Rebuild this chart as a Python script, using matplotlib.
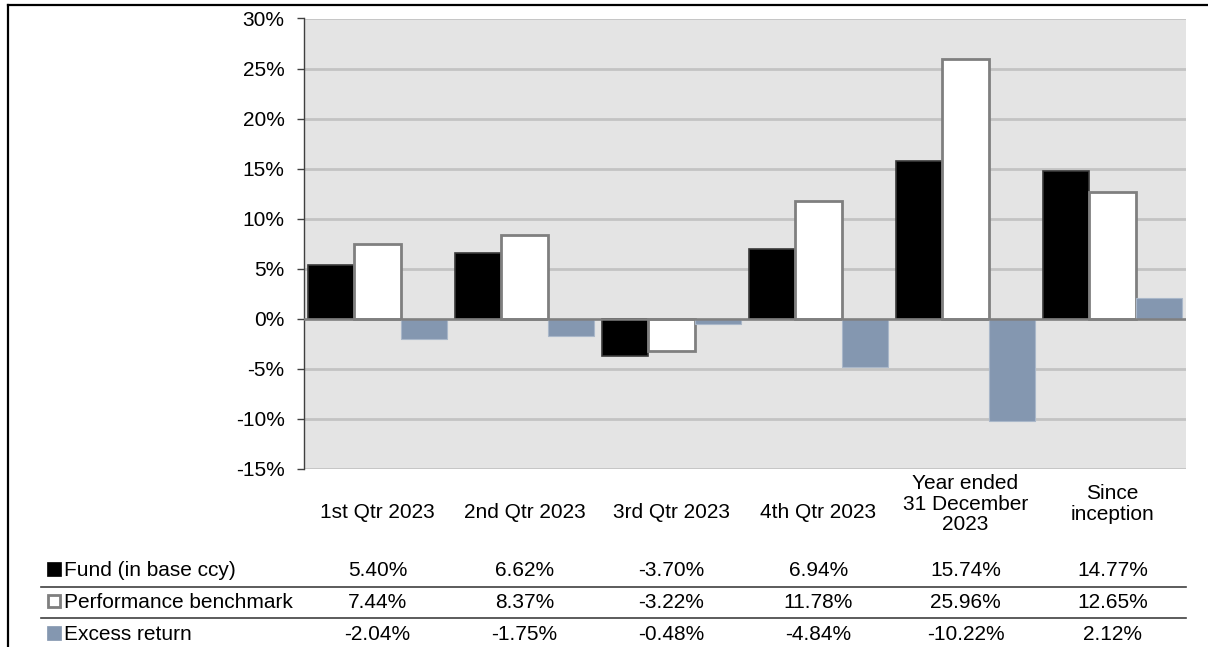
import matplotlib
matplotlib.use("Agg")
import matplotlib.pyplot as plt
import matplotlib.transforms as mtransforms
from matplotlib.patches import Rectangle
from matplotlib.lines import Line2D
import numpy as np

plt.rcParams['font.family'] = ['Liberation Sans', 'DejaVu Sans']

categories = ["1st Qtr 2023", "2nd Qtr 2023", "3rd Qtr 2023", "4th Qtr 2023",
              "Year ended\n31 December\n2023", "Since\ninception"]
series_names = ["Fund (in base ccy)", "Performance benchmark", "Excess return"]
fund = [5.40, 6.62, -3.70, 6.94, 15.74, 14.77]
benchmark = [7.44, 8.37, -3.22, 11.78, 25.96, 12.65]
excess = [-2.04, -1.75, -0.48, -4.84, -10.22, 2.12]
yticks = [-15, -10, -5, 0, 5, 10, 15, 20, 25, 30]

W, H = 1208, 647
FS = 15
fig = plt.figure(figsize=(W / 100, H / 100), dpi=100)

def fx(px):
    return px / W

def fy(py):
    return 1 - py / H

ax_left, ax_right, ax_top, ax_bot = 304, 1186, 18.5, 469
ax = fig.add_axes([fx(ax_left), fy(ax_bot), fx(ax_right - ax_left), (ax_bot - ax_top) / H])
ax.set_facecolor('#e4e4e4')

x = np.arange(len(categories))
bw = 0.315
ax.bar(x - bw, fund, width=bw, color='black', edgecolor='#3a3a3a', linewidth=1.2, zorder=3)
ax.bar(x, benchmark, width=bw, color='white', edgecolor='#7f7f7f', linewidth=2.0, zorder=3)
ax.bar(x + bw, excess, width=bw, color='#8497b0', edgecolor='#a9b7c9', linewidth=0.8, zorder=3)

ax.set_xlim(-0.5, len(categories) - 0.5)
ax.set_ylim(-15, 30)
ax.set_yticks(yticks)
ax.set_yticklabels([f"{v}%" for v in yticks], fontsize=FS)
ax.yaxis.grid(True, color='#c3c3c3', linewidth=2.0, zorder=0)
ax.axhline(0, color='#808080', linewidth=1.8, zorder=4)
ax.set_xticks([])
for s in ['top', 'right', 'bottom']:
    ax.spines[s].set_visible(False)
ax.spines['left'].set_color('#404040')
ax.spines['left'].set_linewidth(1.0)
ax.tick_params(axis='y', direction='out', length=5, width=1.0, color='#404040', pad=9)

blend = mtransforms.blended_transform_factory(ax.transData, fig.transFigure)

# category labels below the plot
cat_y = [512, 512, 512, 512, 504, 504]
for i, c in enumerate(categories):
    ax.text(x[i], fy(cat_y[i]), c, transform=blend, ha='center', va='center',
            fontsize=FS, linespacing=1.08)

# data table
row_y = [570, 602, 634]
rows = [fund, benchmark, excess]
for r, vals in enumerate(rows):
    for i, v in enumerate(vals):
        ax.text(x[i], fy(row_y[r]), f"{v:.2f}%", transform=blend, ha='center', va='center', fontsize=FS)
    fig.text(fx(64), fy(row_y[r]), series_names[r], ha='left', va='center', fontsize=FS)

# legend keys
sq = 14
fig.add_artist(Rectangle((fx(47), fy(row_y[0] - 1 + sq / 2)), sq / W, sq / H, transform=fig.transFigure,
                         facecolor='black', edgecolor='black', linewidth=0.5))
fig.add_artist(Rectangle((fx(48), fy(row_y[1] - 2 + sq / 2)), (sq - 2) / W, (sq - 2) / H, transform=fig.transFigure,
                         facecolor='white', edgecolor='#7f7f7f', linewidth=2.0))
fig.add_artist(Rectangle((fx(47), fy(row_y[2] - 1 + sq / 2)), sq / W, sq / H, transform=fig.transFigure,
                         facecolor='#8497b0', edgecolor='#8497b0', linewidth=0.5))

# table separator lines
for ly in [587, 618]:
    fig.add_artist(Line2D([fx(41), fx(1186)], [fy(ly), fy(ly)], transform=fig.transFigure,
                          color='#404040', linewidth=1.2))

# outer frame (top and left)
fig.add_artist(Line2D([fx(8), fx(8)], [fy(5), 0], transform=fig.transFigure, color='black', linewidth=1.6))
fig.add_artist(Line2D([fx(8), 1], [fy(5), fy(5)], transform=fig.transFigure, color='black', linewidth=1.6))

fig.savefig("out.png", dpi=100)
